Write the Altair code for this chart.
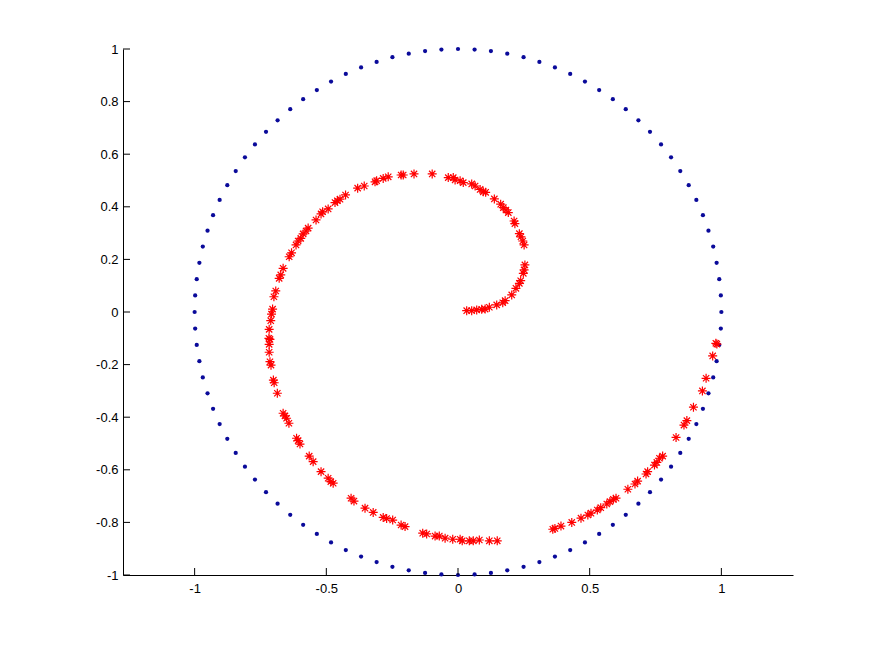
import altair as alt
import pandas as pd

# Blue reference circle (100 evenly spaced dots)
circle_x = [1.000, 0.998, 0.992, 0.982, 0.969, 0.951, 0.930, 0.905, 0.876, 0.844,
            0.809, 0.771, 0.729, 0.685, 0.637, 0.588, 0.536, 0.482, 0.426, 0.368,
            0.309, 0.249, 0.187, 0.125, 0.063, 0.000, -0.063, -0.125, -0.187, -0.249,
            -0.309, -0.368, -0.426, -0.482, -0.536, -0.588, -0.637, -0.685, -0.729, -0.771,
            -0.809, -0.844, -0.876, -0.905, -0.930, -0.951, -0.969, -0.982, -0.992, -0.998,
            -1.000, -0.998, -0.992, -0.982, -0.969, -0.951, -0.930, -0.905, -0.876, -0.844,
            -0.809, -0.771, -0.729, -0.685, -0.637, -0.588, -0.536, -0.482, -0.426, -0.368,
            -0.309, -0.249, -0.187, -0.125, -0.063, 0.000, 0.063, 0.125, 0.187, 0.249,
            0.309, 0.368, 0.426, 0.482, 0.536, 0.588, 0.637, 0.685, 0.729, 0.771,
            0.809, 0.844, 0.876, 0.905, 0.930, 0.951, 0.969, 0.982, 0.992, 0.998]
circle_y = [0.000, 0.063, 0.125, 0.187, 0.249, 0.309, 0.368, 0.426, 0.482, 0.536,
            0.588, 0.637, 0.685, 0.729, 0.771, 0.809, 0.844, 0.876, 0.905, 0.930,
            0.951, 0.969, 0.982, 0.992, 0.998, 1.000, 0.998, 0.992, 0.982, 0.969,
            0.951, 0.930, 0.905, 0.876, 0.844, 0.809, 0.771, 0.729, 0.685, 0.637,
            0.588, 0.536, 0.482, 0.426, 0.368, 0.309, 0.249, 0.187, 0.125, 0.063,
            0.000, -0.063, -0.125, -0.187, -0.249, -0.309, -0.368, -0.426, -0.482, -0.536,
            -0.588, -0.637, -0.685, -0.729, -0.771, -0.809, -0.844, -0.876, -0.905, -0.930,
            -0.951, -0.969, -0.982, -0.992, -0.998, -1.000, -0.998, -0.992, -0.982, -0.969,
            -0.951, -0.930, -0.905, -0.876, -0.844, -0.809, -0.771, -0.729, -0.685, -0.637,
            -0.588, -0.536, -0.482, -0.426, -0.368, -0.309, -0.249, -0.187, -0.125, -0.063]

# Red spiral samples
spiral_x = [0.033, 0.052, 0.071, 0.090, 0.103, 0.119, 0.147, 0.170, 0.179, 0.204,
            0.220, 0.233, 0.238, 0.248, 0.251, 0.254, 0.251, 0.246, 0.239, 0.233,
            0.216, 0.213, 0.191, 0.182, 0.172, 0.162, 0.138, 0.105, 0.096, 0.084,
            0.065, 0.052, 0.020, 0.008, -0.011, -0.018, -0.037, -0.098, -0.167, -0.208,
            -0.216, -0.265, -0.284, -0.309, -0.315, -0.356, -0.381, -0.427, -0.448, -0.458,
            -0.467, -0.493, -0.514, -0.520, -0.539, -0.569, -0.577, -0.588, -0.597, -0.607,
            -0.615, -0.632, -0.641, -0.664, -0.673, -0.679, -0.692, -0.699, -0.704, -0.708,
            -0.711, -0.717, -0.718, -0.714, -0.717, -0.717, -0.714, -0.710, -0.701, -0.698,
            -0.686, -0.664, -0.657, -0.651, -0.642, -0.613, -0.607, -0.600, -0.565, -0.550,
            -0.520, -0.493, -0.483, -0.474, -0.406, -0.395, -0.353, -0.322, -0.284, -0.271,
            -0.248, -0.216, -0.201, -0.134, -0.119, -0.087, -0.071, -0.049, -0.020, 0.008,
            0.016, 0.043, 0.058, 0.081, 0.119, 0.149,
            0.360, 0.368, 0.391, 0.432, 0.467, 0.493, 0.505, 0.529, 0.542, 0.565,
            0.577, 0.590, 0.600, 0.645, 0.672, 0.682, 0.714, 0.720, 0.746, 0.755,
            0.765, 0.777, 0.828, 0.858, 0.869, 0.894, 0.928, 0.942, 0.967, 0.979, 0.983]
spiral_y = [0.005, 0.005, 0.008, 0.010, 0.011, 0.018, 0.027, 0.035, 0.043, 0.065,
            0.090, 0.109, 0.119, 0.147, 0.160, 0.179, 0.255, 0.270, 0.286, 0.298,
            0.336, 0.346, 0.378, 0.388, 0.397, 0.410, 0.430, 0.455, 0.457, 0.466,
            0.479, 0.487, 0.492, 0.499, 0.502, 0.511, 0.511, 0.525, 0.525, 0.521,
            0.521, 0.514, 0.508, 0.499, 0.495, 0.479, 0.471, 0.445, 0.429, 0.423,
            0.416, 0.392, 0.381, 0.373, 0.350, 0.319, 0.308, 0.297, 0.280, 0.270,
            0.255, 0.225, 0.210, 0.166, 0.141, 0.128, 0.080, 0.058, 0.011, -0.008,
            -0.033, -0.066, -0.100, -0.104, -0.123, -0.153, -0.189, -0.202, -0.259, -0.269,
            -0.309, -0.385, -0.395, -0.404, -0.423, -0.480, -0.489, -0.502, -0.548, -0.569,
            -0.607, -0.632, -0.645, -0.651, -0.708, -0.719, -0.746, -0.762, -0.781, -0.785,
            -0.791, -0.810, -0.816, -0.841, -0.844, -0.852, -0.852, -0.860, -0.864, -0.864,
            -0.870, -0.870, -0.870, -0.867, -0.870, -0.870,
            -0.826, -0.823, -0.814, -0.800, -0.784, -0.772, -0.765, -0.753, -0.744, -0.730,
            -0.721, -0.712, -0.708, -0.674, -0.654, -0.643, -0.616, -0.607, -0.582, -0.572,
            -0.556, -0.548, -0.477, -0.430, -0.413, -0.362, -0.300, -0.252, -0.167, -0.119, -0.122]

x_ticks = [-1, -0.5, 0, 0.5, 1]
y_ticks = [-1, -0.8, -0.6, -0.4, -0.2, 0, 0.2, 0.4, 0.6, 0.8, 1]

W, H = 670, 526
FONT = "Liberation Sans"

circle_df = pd.DataFrame({"x": circle_x, "y": circle_y})
spiral_df = pd.DataFrame({"x": spiral_x, "y": spiral_y})
xt_df = pd.DataFrame({"x": x_ticks})
yt_df = pd.DataFrame({"y": y_ticks})

xscale = alt.Scale(domain=[-1.272, 1.272], nice=False, zero=False)
yscale = alt.Scale(domain=[-1, 1], nice=False, zero=False)
label_fix = "'' + datum.value"

xaxis = alt.Axis(values=x_ticks, title=None, ticks=False, grid=False, labelPadding=7,
                 labelExpr=label_fix)
yaxis = alt.Axis(values=y_ticks, title=None, ticks=False, grid=False, labelPadding=5,
                 labelExpr=label_fix)

asterisk = "M-1,0L1,0M0,-1L0,1M-0.7,-0.7L0.7,0.7M-0.7,0.7L0.7,-0.7"

circle = alt.Chart(circle_df).mark_point(
    shape="circle", filled=True, size=18, color="#0a0a9a", opacity=1
).encode(
    x=alt.X("x:Q", scale=xscale, axis=xaxis),
    y=alt.Y("y:Q", scale=yscale, axis=yaxis),
)

spiral = alt.Chart(spiral_df).mark_point(
    shape=asterisk, filled=False, size=81, color="#ff0000", strokeWidth=1.2, opacity=1
).encode(
    x=alt.X("x:Q", scale=xscale, axis=xaxis),
    y=alt.Y("y:Q", scale=yscale, axis=yaxis),
)

yticks = alt.Chart(yt_df).mark_rule(color="black", strokeWidth=1).encode(
    y=alt.Y("y:Q", scale=yscale, axis=yaxis),
    x=alt.value(0),
    x2=alt.value(7),
)

xticks = alt.Chart(xt_df).mark_rule(color="black", strokeWidth=1).encode(
    x=alt.X("x:Q", scale=xscale, axis=xaxis),
    y=alt.value(H),
    y2=alt.value(H - 7),
)

chart = alt.layer(circle, spiral, yticks, xticks).properties(
    width=W,
    height=H,
    autosize=alt.AutoSizeParams(type="none"),
    padding={"left": 115, "top": 41, "right": 84, "bottom": 55},
    background="white",
).configure_view(
    stroke=None
).configure_axis(
    domainColor="black",
    domainWidth=1,
    labelColor="black",
    labelFont=FONT,
    labelFontSize=13,
)

chart.save("out.html", embed_options={"renderer": "svg", "actions": False})
